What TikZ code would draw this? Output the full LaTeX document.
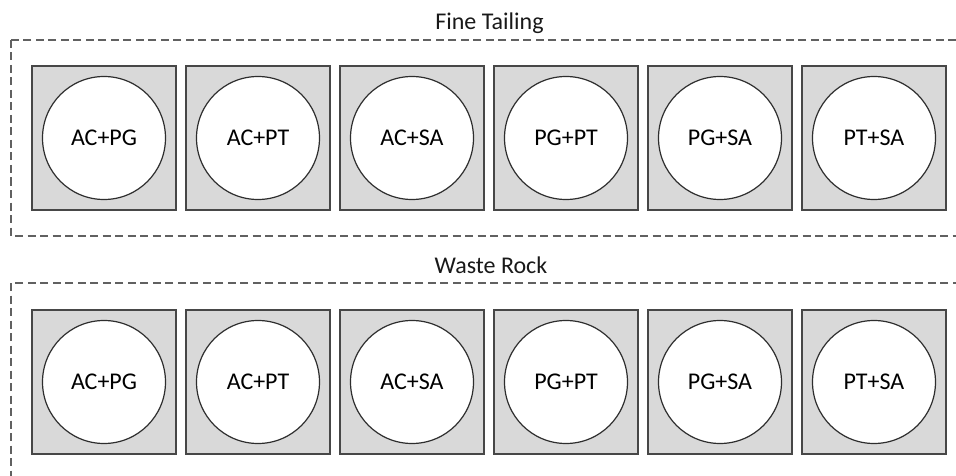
\documentclass[tikz,border=0pt]{standalone}
\usepackage{fontspec}
\setmainfont{Carlito}
\begin{document}
\begin{tikzpicture}[x=1pt,y=-1pt,
  groupbox/.style={draw=black!62, line width=1.3pt, dash pattern=on 8pt off 4.5pt},
  cell/.style={draw=black!72, line width=1.6pt, fill=black!15, minimum size=144pt, inner sep=0pt, shape=rectangle},
  disc/.style={draw=black!82, line width=1.2pt, fill=white, circle, minimum size=123pt, inner sep=0pt, font=\fontsize{24}{28}\selectfont, text=black},
  title/.style={font=\fontsize{24}{28}\selectfont, text=black!90, anchor=base, inner sep=0pt}]
\useasboundingbox (0,0) rectangle (956,476);
\clip (0,0) rectangle (956,476);
\fill[white] (0,0) rectangle (956,476);
% groups
\draw[groupbox] (11,40) rectangle (975,236);
\draw[groupbox] (11,283) rectangle (975,500);
\node[title] (tft) at (489.5,30) {Fine Tailing};
\node[title] (twr) at (491,273) {Waste Rock};
\foreach \i/\lab in {1/AC+PG,2/AC+PT,3/AC+SA,4/PG+PT,5/PG+SA,6/PT+SA}{
  \pgfmathsetmacro{\cx}{104+154*(\i-1)}
  \node[cell] (fs\i) at (\cx,138) {};
  \node[disc] (fc\i) at (fs\i.center) {\lab};
  \node[cell] (ws\i) at (\cx,382) {};
  \node[disc] (wc\i) at (ws\i.center) {\lab};
}
\end{tikzpicture}
\end{document}
